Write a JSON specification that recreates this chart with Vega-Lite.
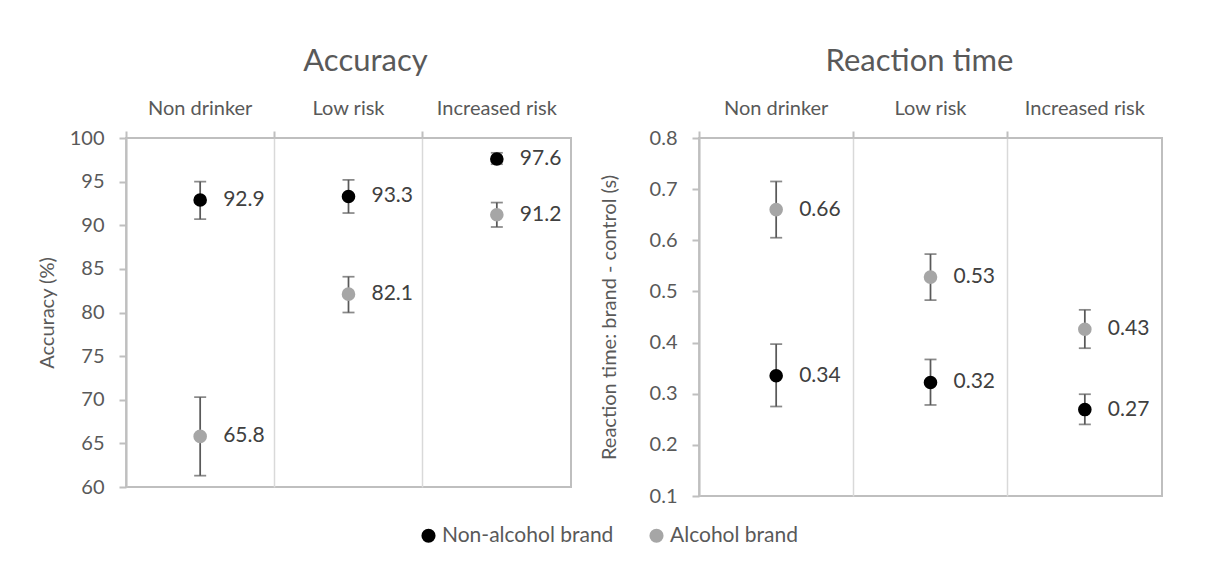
{
  "$schema": "https://vega.github.io/schema/vega-lite/v6.json",
  "background": "white",
  "padding": {"left": 36, "top": 45, "right": 10, "bottom": 5},
  "config": {
    "font": "Lato",
    "view": {"stroke": "#bfbfbf", "strokeWidth": 2},
    "axis": {"labelFont": "Lato", "titleFont": "Lato", "labelColor": "#595959", "titleColor": "#595959", "labelFontSize": 20, "titleFontSize": 20, "titleFontWeight": "normal"},
    "legend": {"orient": "none", "legendX": 292, "legendY": 387, "direction": "horizontal", "padding": 0, "labelFont": "Lato", "labelFontSize": 21, "labelColor": "#595959", "symbolType": "circle", "symbolSize": 200, "symbolStrokeWidth": 0, "labelOffset": 3, "columnPadding": 32, "labelLimit": 400}
  },
  "datasets": {
    "acc": [
      {"group": "Non drinker", "brand": "Non-alcohol brand", "mean": 92.9, "lo": 90.7, "hi": 95.0},
      {"group": "Non drinker", "brand": "Alcohol brand", "mean": 65.8, "lo": 61.3, "hi": 70.3},
      {"group": "Low risk", "brand": "Non-alcohol brand", "mean": 93.3, "lo": 91.4, "hi": 95.2},
      {"group": "Low risk", "brand": "Alcohol brand", "mean": 82.1, "lo": 80.0, "hi": 84.1},
      {"group": "Increased risk", "brand": "Non-alcohol brand", "mean": 97.6, "lo": 97.0, "hi": 98.3},
      {"group": "Increased risk", "brand": "Alcohol brand", "mean": 91.2, "lo": 89.8, "hi": 92.6}
    ],
    "rt": [
      {"group": "Non drinker", "brand": "Non-alcohol brand", "mean": 0.335, "lo": 0.275, "hi": 0.397},
      {"group": "Non drinker", "brand": "Alcohol brand", "mean": 0.66, "lo": 0.605, "hi": 0.715},
      {"group": "Low risk", "brand": "Non-alcohol brand", "mean": 0.322, "lo": 0.278, "hi": 0.367},
      {"group": "Low risk", "brand": "Alcohol brand", "mean": 0.528, "lo": 0.483, "hi": 0.573},
      {"group": "Increased risk", "brand": "Non-alcohol brand", "mean": 0.269, "lo": 0.240, "hi": 0.299},
      {"group": "Increased risk", "brand": "Alcohol brand", "mean": 0.426, "lo": 0.389, "hi": 0.464}
    ]
  },
  "hconcat": [
    {
      "width": 445,
      "height": 349,
      "title": {"text": "Accuracy", "fontSize": 31, "fontWeight": "normal", "color": "#595959", "font": "Lato", "dx": 17, "offset": 20},
      "data": {"name": "acc"},
      "encoding": {
        "x": {"field": "group", "type": "nominal", "sort": ["Non drinker", "Low risk", "Increased risk"],
          "scale": {"paddingInner": 0, "paddingOuter": 0},
          "axis": {"orient": "top", "title": null, "labelAngle": 0, "bandPosition": 0, "grid": true, "gridColor": "#d9d9d9", "gridWidth": 1.5, "domain": false, "ticks": true, "tickColor": "#bfbfbf", "tickSize": 7, "tickWidth": 2, "labelPadding": 13}}
      },
      "layer": [
        {"mark": {"type": "rule", "color": "#595959", "strokeWidth": 1.75},
          "encoding": {"y": {"field": "lo", "type": "quantitative", "scale": {"domain": [60, 100], "nice": false, "zero": false},
            "axis": {"title": "Accuracy (%)", "values": [60, 65, 70, 75, 80, 85, 90, 95, 100], "labelOverlap": false, "grid": false, "domainColor": "#bfbfbf", "domainWidth": 2, "tickColor": "#bfbfbf", "tickSize": 7, "tickWidth": 2, "labelPadding": 15, "titlePadding": 12}},
            "y2": {"field": "hi"}}},
        {"mark": {"type": "tick", "color": "#595959", "size": 12, "thickness": 1.75}, "encoding": {"y": {"field": "lo", "type": "quantitative"}}},
        {"mark": {"type": "tick", "color": "#595959", "size": 12, "thickness": 1.75}, "encoding": {"y": {"field": "hi", "type": "quantitative"}}},
        {"mark": {"type": "point", "filled": true, "shape": "circle", "size": 185, "opacity": 1},
          "encoding": {"y": {"field": "mean", "type": "quantitative"},
            "color": {"field": "brand", "type": "nominal", "scale": {"domain": ["Non-alcohol brand", "Alcohol brand"], "range": ["#000000", "#a6a6a6"]}, "legend": {"title": null}}}},
        {"mark": {"type": "text", "align": "left", "dx": 23, "fontSize": 21, "color": "#404040", "font": "Lato"},
          "encoding": {"y": {"field": "mean", "type": "quantitative"}, "text": {"field": "mean", "type": "quantitative", "format": ".1f"}}}
      ]
    },
    {
      "width": 463,
      "height": 358,
      "title": {"text": "Reaction time", "fontSize": 31, "fontWeight": "normal", "color": "#595959", "font": "Lato", "dx": -11, "offset": 20},
      "data": {"name": "rt"},
      "encoding": {
        "x": {"field": "group", "type": "nominal", "sort": ["Non drinker", "Low risk", "Increased risk"],
          "scale": {"paddingInner": 0, "paddingOuter": 0},
          "axis": {"orient": "top", "title": null, "labelAngle": 0, "bandPosition": 0, "grid": true, "gridColor": "#d9d9d9", "gridWidth": 1.5, "domain": false, "ticks": true, "tickColor": "#bfbfbf", "tickSize": 7, "tickWidth": 2, "labelPadding": 13}}
      },
      "layer": [
        {"mark": {"type": "rule", "color": "#595959", "strokeWidth": 1.75},
          "encoding": {"y": {"field": "lo", "type": "quantitative", "scale": {"domain": [0.1, 0.8], "nice": false, "zero": false},
            "axis": {"title": "Reaction time: brand - control (s)", "values": [0.1, 0.2, 0.3, 0.4, 0.5, 0.6, 0.7, 0.8], "format": ".1f", "labelOverlap": false, "grid": false, "domainColor": "#bfbfbf", "domainWidth": 2, "tickColor": "#bfbfbf", "tickSize": 7, "tickWidth": 2, "labelPadding": 15, "titlePadding": 30}},
            "y2": {"field": "hi"}}},
        {"mark": {"type": "tick", "color": "#595959", "size": 12, "thickness": 1.75}, "encoding": {"y": {"field": "lo", "type": "quantitative"}}},
        {"mark": {"type": "tick", "color": "#595959", "size": 12, "thickness": 1.75}, "encoding": {"y": {"field": "hi", "type": "quantitative"}}},
        {"mark": {"type": "point", "filled": true, "shape": "circle", "size": 185, "opacity": 1},
          "encoding": {"y": {"field": "mean", "type": "quantitative"},
            "color": {"field": "brand", "type": "nominal", "scale": {"domain": ["Non-alcohol brand", "Alcohol brand"], "range": ["#000000", "#a6a6a6"]}, "legend": {"title": null}}}},
        {"mark": {"type": "text", "align": "left", "dx": 23, "fontSize": 21, "color": "#404040", "font": "Lato"},
          "encoding": {"y": {"field": "mean", "type": "quantitative"}, "text": {"field": "mean", "type": "quantitative", "format": ".2f"}}}
      ]
    }
  ],
  "spacing": 26
}
